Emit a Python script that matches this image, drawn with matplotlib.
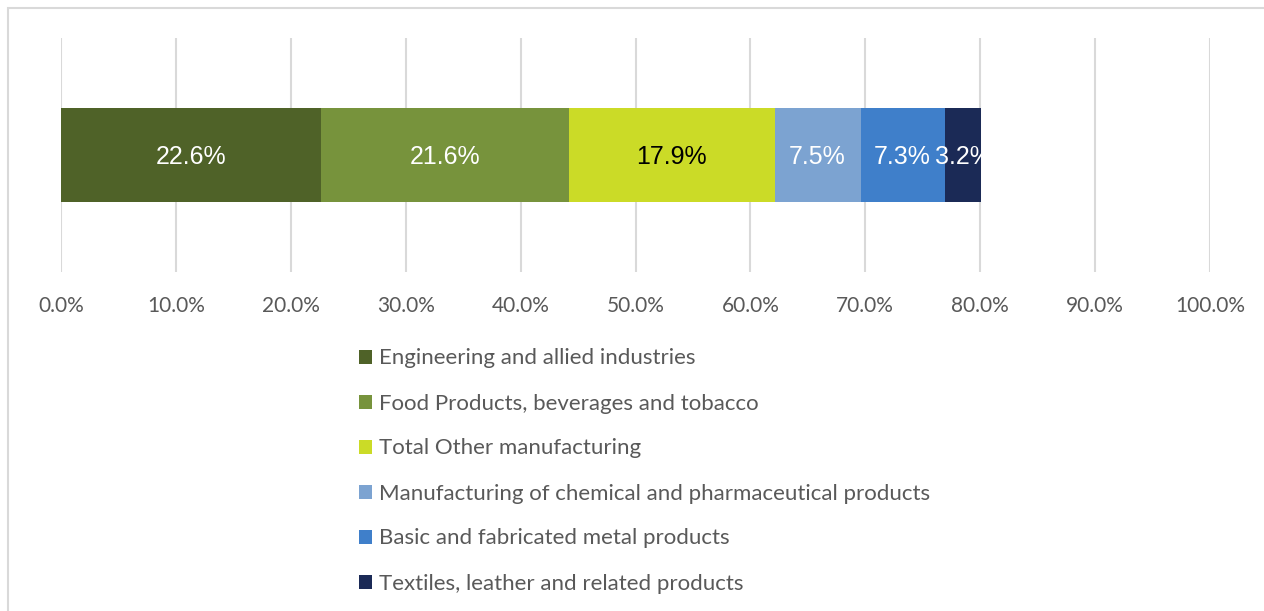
import matplotlib
matplotlib.use("Agg")
import matplotlib.pyplot as plt
from matplotlib.patches import Rectangle, Patch

categories = [
    "Engineering and allied industries",
    "Food Products, beverages and tobacco",
    "Total Other manufacturing",
    "Manufacturing of chemical and pharmaceutical products",
    "Basic and fabricated metal products",
    "Textiles, leather and related products",
]
values = [22.6, 21.6, 17.9, 7.5, 7.3, 3.2]
colors = ["#4F6228", "#77933C", "#CBDB27", "#7CA3D1", "#3F7FCA", "#1B2A56"]
label_colors = ["white", "white", "black", "white", "white", "white"]
xticks = [0, 10, 20, 30, 40, 50, 60, 70, 80, 90, 100]

fig = plt.figure(figsize=(12.64, 6.11), dpi=100)
fig.patches.append(Rectangle((8/1264, -0.1), 1.2, 1 - 8/611 + 0.1, transform=fig.transFigure,
                             fill=False, edgecolor="#D9D9D9", linewidth=1.5))

ax = fig.add_axes([61/1264, 1 - 272/611, (1210 - 61)/1264, (272 - 38)/611])
left = 0
for v, c, lc in zip(values, colors, label_colors):
    ax.barh(0, v, left=left, height=0.81, color=c, zorder=3)
    ax.text(left + v/2, -0.02, f"{v:.1f}%", ha="center", va="center", color=lc,
            fontsize=18, family="Liberation Sans", zorder=4)
    left += v

ax.set_xlim(0, 100)
ax.set_ylim(-1, 1)
ax.set_xticks(xticks)
ax.set_xticklabels([f"{t:.1f}%" for t in xticks], family=["Liberation Sans Narrow", "Lato"],
                   fontsize=15, color="#595959")
ax.set_yticks([])
ax.tick_params(axis="x", length=0, pad=17)
ax.grid(axis="x", color="#D9D9D9", linewidth=1.5, zorder=0)
for s in ax.spines.values():
    s.set_visible(False)

handles = [Patch(facecolor=c, edgecolor="none") for c in colors]
leg = fig.legend(handles, categories, loc="upper left", bbox_to_anchor=(359/1264, 1 - 348.5/611),
                 frameon=False, ncol=1, prop={"family": "Lato", "size": 16},
                 handlelength=0.585, handleheight=0.585, handletextpad=0.32,
                 labelspacing=1.125, borderpad=0, borderaxespad=0)
for t in leg.get_texts():
    t.set_color("#595959")

fig.savefig("out.png", dpi=100)
